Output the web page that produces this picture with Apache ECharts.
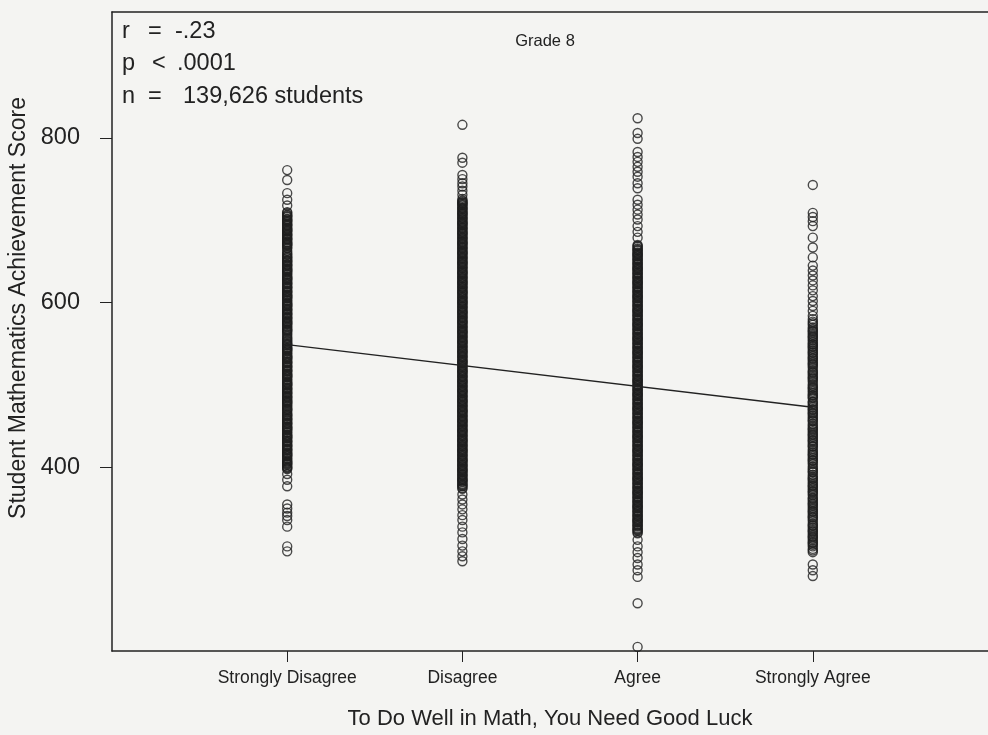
<!DOCTYPE html>
<html>
<head>
<meta charset="utf-8">
<script src="https://cdn.jsdelivr.net/npm/echarts@6/dist/echarts.min.js"></script>
<style>
  html, body { margin: 0; padding: 0; background: #f4f4f2; }
  #chart { width: 988px; height: 735px; }
</style>
</head>
<body>
<div id="chart"></div>
<script>
// Response categories on the x axis
const categories = ['Strongly Disagree', 'Disagree', 'Agree', 'Strongly Agree'];

// Student scores in each response column: the sparse tails and the packed middle
const stronglyDisagreeScores = [761, 749, 733, 725, 718,
  710, 707, 705, 702, 700, 698, 695, 693, 690, 688, 686, 683, 681, 678, 676, 673, 671, 669, 666, 663, 659, 656, 654, 651, 649, 646, 644, 641, 639, 637, 634, 631, 629, 627, 624, 622, 619, 617, 614, 612, 609, 607, 605, 602, 599, 597, 595, 592, 590, 587, 585, 582, 580, 577, 575, 573, 570, 567, 565, 563, 559, 556, 553, 550, 548, 545, 543, 541, 538, 535, 533, 531, 528, 526, 523, 521, 518, 516, 513, 511, 509, 506, 503, 501, 499, 496, 494, 491, 489, 486, 484, 481, 479, 477, 474, 471, 469, 467, 464, 462, 459, 457, 454, 452, 449, 447, 445, 442, 439, 437, 435, 432, 430, 427, 425, 422, 420, 417, 415, 413, 410, 407, 405, 403, 400, 398,
  392, 385, 377, 355, 350, 345, 341, 336, 328, 304, 298];
const stronglyDisagreeCore = [709, 706, 704, 701, 699, 696, 694, 691, 689, 687, 684, 682, 679, 677, 674, 672, 670, 667, 661, 658, 655, 652, 650, 647, 645, 642, 640, 638, 635, 632, 630, 628, 625, 623, 620, 618, 615, 613, 610, 608, 606, 603, 600, 598, 596, 593, 591, 588, 586, 583, 581, 578, 576, 574, 571, 568, 566, 561, 557, 554, 551, 549, 546, 544, 542, 539, 536, 534, 532, 529, 527, 524, 522, 519, 517, 514, 512, 510, 507, 504, 502, 500, 497, 495, 492, 490, 487, 485, 482, 480, 478, 475, 472, 470, 465, 463, 460, 458, 455, 453, 450, 448, 446, 443, 440, 438, 436, 433, 431, 428, 426, 423, 421, 418, 416, 414, 411, 408, 406, 404, 401, 399];

const disagreeScores = [816, 776, 770, 755, 750, 745, 741, 736, 731, 726,
  724, 722, 720, 718, 715, 713, 710, 708, 706, 703, 701, 698, 696, 694, 691, 689, 686, 684, 682, 679, 677, 674, 672, 670, 667, 665, 662, 660, 658, 655, 653, 650, 648, 646, 643, 641, 638, 636, 634, 631, 629, 626, 624, 622, 619, 617, 614, 612, 610, 607, 605, 602, 600, 598, 595, 593, 590, 588, 586, 583, 581, 578, 576, 574, 571, 569, 566, 564, 562, 559, 557, 554, 552, 550, 547, 545, 542, 540, 538, 535, 533, 530, 528, 526, 523, 521, 518, 516, 514, 511, 509, 506, 504, 502, 499, 497, 494, 492, 490, 487, 485, 482, 480, 478, 475, 473, 470, 468, 466, 463, 461, 458, 456, 454, 451, 449, 446, 444, 442, 439, 437, 434, 432, 430, 427, 425, 422, 420, 418, 415, 413, 410, 408, 406, 403, 401, 398, 396, 394, 391, 389, 386, 384, 382, 379, 377, 374,
  367, 361, 355, 349, 342, 336, 328, 321, 313, 305, 298, 292, 286];
const disagreeCore = [723, 721, 719, 716, 714, 711, 709, 707, 704, 702, 699, 697, 695, 692, 690, 687, 685, 683, 680, 678, 675, 673, 671, 668, 666, 663, 661, 659, 656, 654, 651, 649, 647, 644, 642, 639, 637, 635, 632, 630, 627, 625, 623, 620, 618, 615, 613, 611, 608, 606, 603, 601, 599, 596, 594, 591, 589, 587, 584, 582, 579, 577, 575, 572, 570, 567, 565, 563, 560, 558, 555, 553, 551, 548, 546, 543, 541, 539, 536, 534, 531, 529, 527, 524, 522, 519, 517, 515, 512, 510, 507, 505, 503, 500, 498, 495, 493, 491, 488, 486, 483, 481, 479, 476, 474, 471, 469, 467, 464, 462, 459, 457, 455, 452, 450, 447, 445, 443, 440, 438, 435, 433, 431, 428, 426, 423, 421, 419, 416, 414, 411, 409, 407, 404, 402, 399, 397, 395, 392, 390, 387, 385, 383, 380, 378, 375];

const agreeScores = [824, 806, 799, 783, 777, 771, 765, 759, 753, 745, 739, 725, 719, 713, 707, 701, 693, 686, 679,
  670, 668, 665, 663, 660, 658, 656, 653, 651, 648, 646, 643, 641, 639, 636, 634, 631, 629, 626, 624, 622, 619, 617, 614, 612, 609, 607, 605, 602, 600, 597, 595, 592, 590, 588, 585, 583, 580, 578, 575, 573, 571, 568, 566, 563, 561, 558, 556, 554, 551, 549, 546, 544, 541, 539, 537, 534, 532, 529, 527, 524, 522, 520, 517, 515, 512, 510, 507, 505, 503, 500, 498, 495, 493, 490, 488, 486, 483, 481, 478, 476, 473, 471, 469, 466, 464, 461, 459, 456, 454, 452, 449, 447, 444, 442, 439, 437, 435, 432, 430, 427, 425, 422, 420, 418, 415, 413, 410, 408, 405, 403, 401, 398, 396, 393, 391, 388, 386, 384, 381, 379, 376, 374, 371, 369, 367, 364, 362, 359, 357, 354, 352, 350, 347, 345, 342, 340, 337, 335, 333, 330, 328, 325, 323, 320,
  312, 304, 297, 290, 282, 275, 267, 235, 182];
const agreeCore = [669, 666, 664, 661, 659, 657, 654, 652, 649, 647, 644, 642, 640, 637, 635, 632, 630, 627, 625, 623, 620, 618, 615, 613, 610, 608, 606, 603, 601, 598, 596, 593, 591, 589, 586, 584, 581, 579, 576, 574, 572, 569, 567, 564, 562, 559, 557, 555, 552, 550, 547, 545, 542, 540, 538, 535, 533, 530, 528, 525, 523, 521, 518, 516, 513, 511, 508, 506, 504, 501, 499, 496, 494, 491, 489, 487, 484, 482, 479, 477, 474, 472, 470, 467, 465, 462, 460, 457, 455, 453, 450, 448, 445, 443, 440, 438, 436, 433, 431, 428, 426, 423, 421, 419, 416, 414, 411, 409, 406, 404, 402, 399, 397, 394, 392, 389, 387, 385, 382, 380, 377, 375, 372, 370, 368, 365, 363, 360, 358, 355, 353, 351, 348, 346, 343, 341, 338, 336, 334, 331, 329, 326, 324, 321];

const stronglyAgreeScores = [743, 709, 704, 699, 693, 679, 667, 655, 645, 639, 633, 627, 621, 615, 608, 602, 596, 590, 584,
  580, 577, 573, 570, 566, 563, 559, 556, 552, 549, 546, 542, 539, 535, 532, 528, 525, 521, 518, 515, 511, 508, 504, 501, 497, 494, 490, 487, 484, 480, 477, 473, 470, 466, 463, 459, 456, 453, 449, 446, 442, 439, 435, 432, 428, 425, 422, 418, 415, 411, 408, 404, 401, 397, 394, 391, 387, 384, 380, 377, 373, 370, 366, 363, 360, 356, 353, 349, 346, 342, 339, 335, 332, 329, 325, 322, 318, 315, 311, 308, 304, 301, 297,
  282, 275, 268];
const stronglyAgreeCore = [575, 568, 561, 554, 550, 544, 537, 530, 523, 516, 509, 499, 492, 485, 475, 468, 461, 451, 444, 437, 430, 420, 413, 406, 399, 389, 382, 375, 368, 358, 351, 344, 337, 327, 320, 313, 306, 299,
  565, 558, 547, 540, 533, 526, 513, 506, 496, 488, 479, 471, 465, 457, 447, 440, 433, 426, 416, 409, 395, 386, 378, 371, 362, 355, 347, 340, 330, 323, 316, 309];

const columnScores = [
  stronglyDisagreeScores.concat(stronglyDisagreeCore),
  disagreeScores.concat(disagreeCore),
  agreeScores.concat(agreeCore),
  stronglyAgreeScores.concat(stronglyAgreeCore)
];

// Fitted regression line, evaluated at the outer categories
const fitX = [1, 4];
const fitY = [549, 473];

// Tick values
const yTicks = [400, 600, 800];
const xTicks = [1, 2, 3, 4];

const ink = '#222222';
const sans = '"Liberation Sans", Arial, Helvetica, sans-serif';

const scatterSeries = columnScores.map((scores, i) => ({
  type: 'scatter',
  name: categories[i],
  data: scores.map(v => [xTicks[i], v]),
  symbol: 'circle',
  symbolSize: 9,
  itemStyle: { color: 'rgba(0,0,0,0)', borderColor: '#1e1e1e', borderWidth: 1.4 },
  emphasis: { disabled: true },
  silent: true,
  z: 2
}));

const statFont = '23.5px ' + sans;

const chart = echarts.init(document.getElementById('chart'), null, { renderer: 'canvas' });
chart.setOption({
  backgroundColor: '#f4f4f2',
  animation: false,
  title: {
    text: 'Grade 8',
    left: 540, top: 28,
    textAlign: 'center',
    textStyle: { fontFamily: sans, fontSize: 16.5, fontWeight: 'normal', color: ink }
  },
  grid: { left: 112, right: 0, top: 12, bottom: 83 },
  xAxis: [{
    type: 'value', min: 0, max: 5, position: 'bottom',
    name: 'To Do Well in Math, You Need Good Luck',
    nameLocation: 'middle', nameGap: 57,
    nameTextStyle: { fontFamily: sans, fontSize: 22, color: ink },
    axisLine: { show: true, lineStyle: { color: ink, width: 1.5 } },
    axisTick: { show: true, customValues: xTicks, length: 11, lineStyle: { color: ink, width: 1 } },
    axisLabel: {
      customValues: xTicks, margin: 18,
      formatter: v => categories[v - 1],
      fontFamily: sans, fontSize: 17.5, color: ink
    },
    splitLine: { show: false }
  }, {
    type: 'value', min: 0, max: 5, position: 'top',
    axisLine: { show: true, lineStyle: { color: ink, width: 1.5 } },
    axisTick: { show: false }, axisLabel: { show: false }, splitLine: { show: false }
  }],
  yAxis: {
    type: 'value', min: 177, max: 953,
    axisLine: { show: true, lineStyle: { color: ink, width: 1.5 } },
    axisTick: { show: true, customValues: yTicks, length: 12, lineStyle: { color: ink, width: 1 } },
    axisLabel: { customValues: yTicks, margin: 32, fontFamily: sans, fontSize: 23.5, color: ink },
    splitLine: { show: false }
  },
  graphic: [
    {
      type: 'text', x: 19, y: 308, rotation: Math.PI / 2,
      style: {
        text: 'Student Mathematics Achievement Score',
        font: '23px ' + sans, fill: ink, align: 'center', verticalAlign: 'middle'
      }
    },
    { type: 'text', x: 122, y: 32, style: { text: 'r', font: statFont, fill: ink, verticalAlign: 'middle' } },
    { type: 'text', x: 148, y: 32, style: { text: '=', font: statFont, fill: ink, verticalAlign: 'middle' } },
    { type: 'text', x: 175, y: 32, style: { text: '-.23', font: statFont, fill: ink, verticalAlign: 'middle' } },
    { type: 'text', x: 122, y: 64, style: { text: 'p', font: statFont, fill: ink, verticalAlign: 'middle' } },
    { type: 'text', x: 152, y: 64, style: { text: '<', font: statFont, fill: ink, verticalAlign: 'middle' } },
    { type: 'text', x: 177, y: 64, style: { text: '.0001', font: statFont, fill: ink, verticalAlign: 'middle' } },
    { type: 'text', x: 122, y: 97, style: { text: 'n', font: statFont, fill: ink, verticalAlign: 'middle' } },
    { type: 'text', x: 148, y: 97, style: { text: '=', font: statFont, fill: ink, verticalAlign: 'middle' } },
    { type: 'text', x: 183, y: 97, style: { text: '139,626 students', font: statFont, fill: ink, verticalAlign: 'middle' } }
  ],
  series: scatterSeries.concat([{
    type: 'line',
    data: fitX.map((x, i) => [x, fitY[i]]),
    symbol: 'none',
    lineStyle: { color: ink, width: 1.3 },
    silent: true,
    z: 3
  }])
});
</script>
</body>
</html>
